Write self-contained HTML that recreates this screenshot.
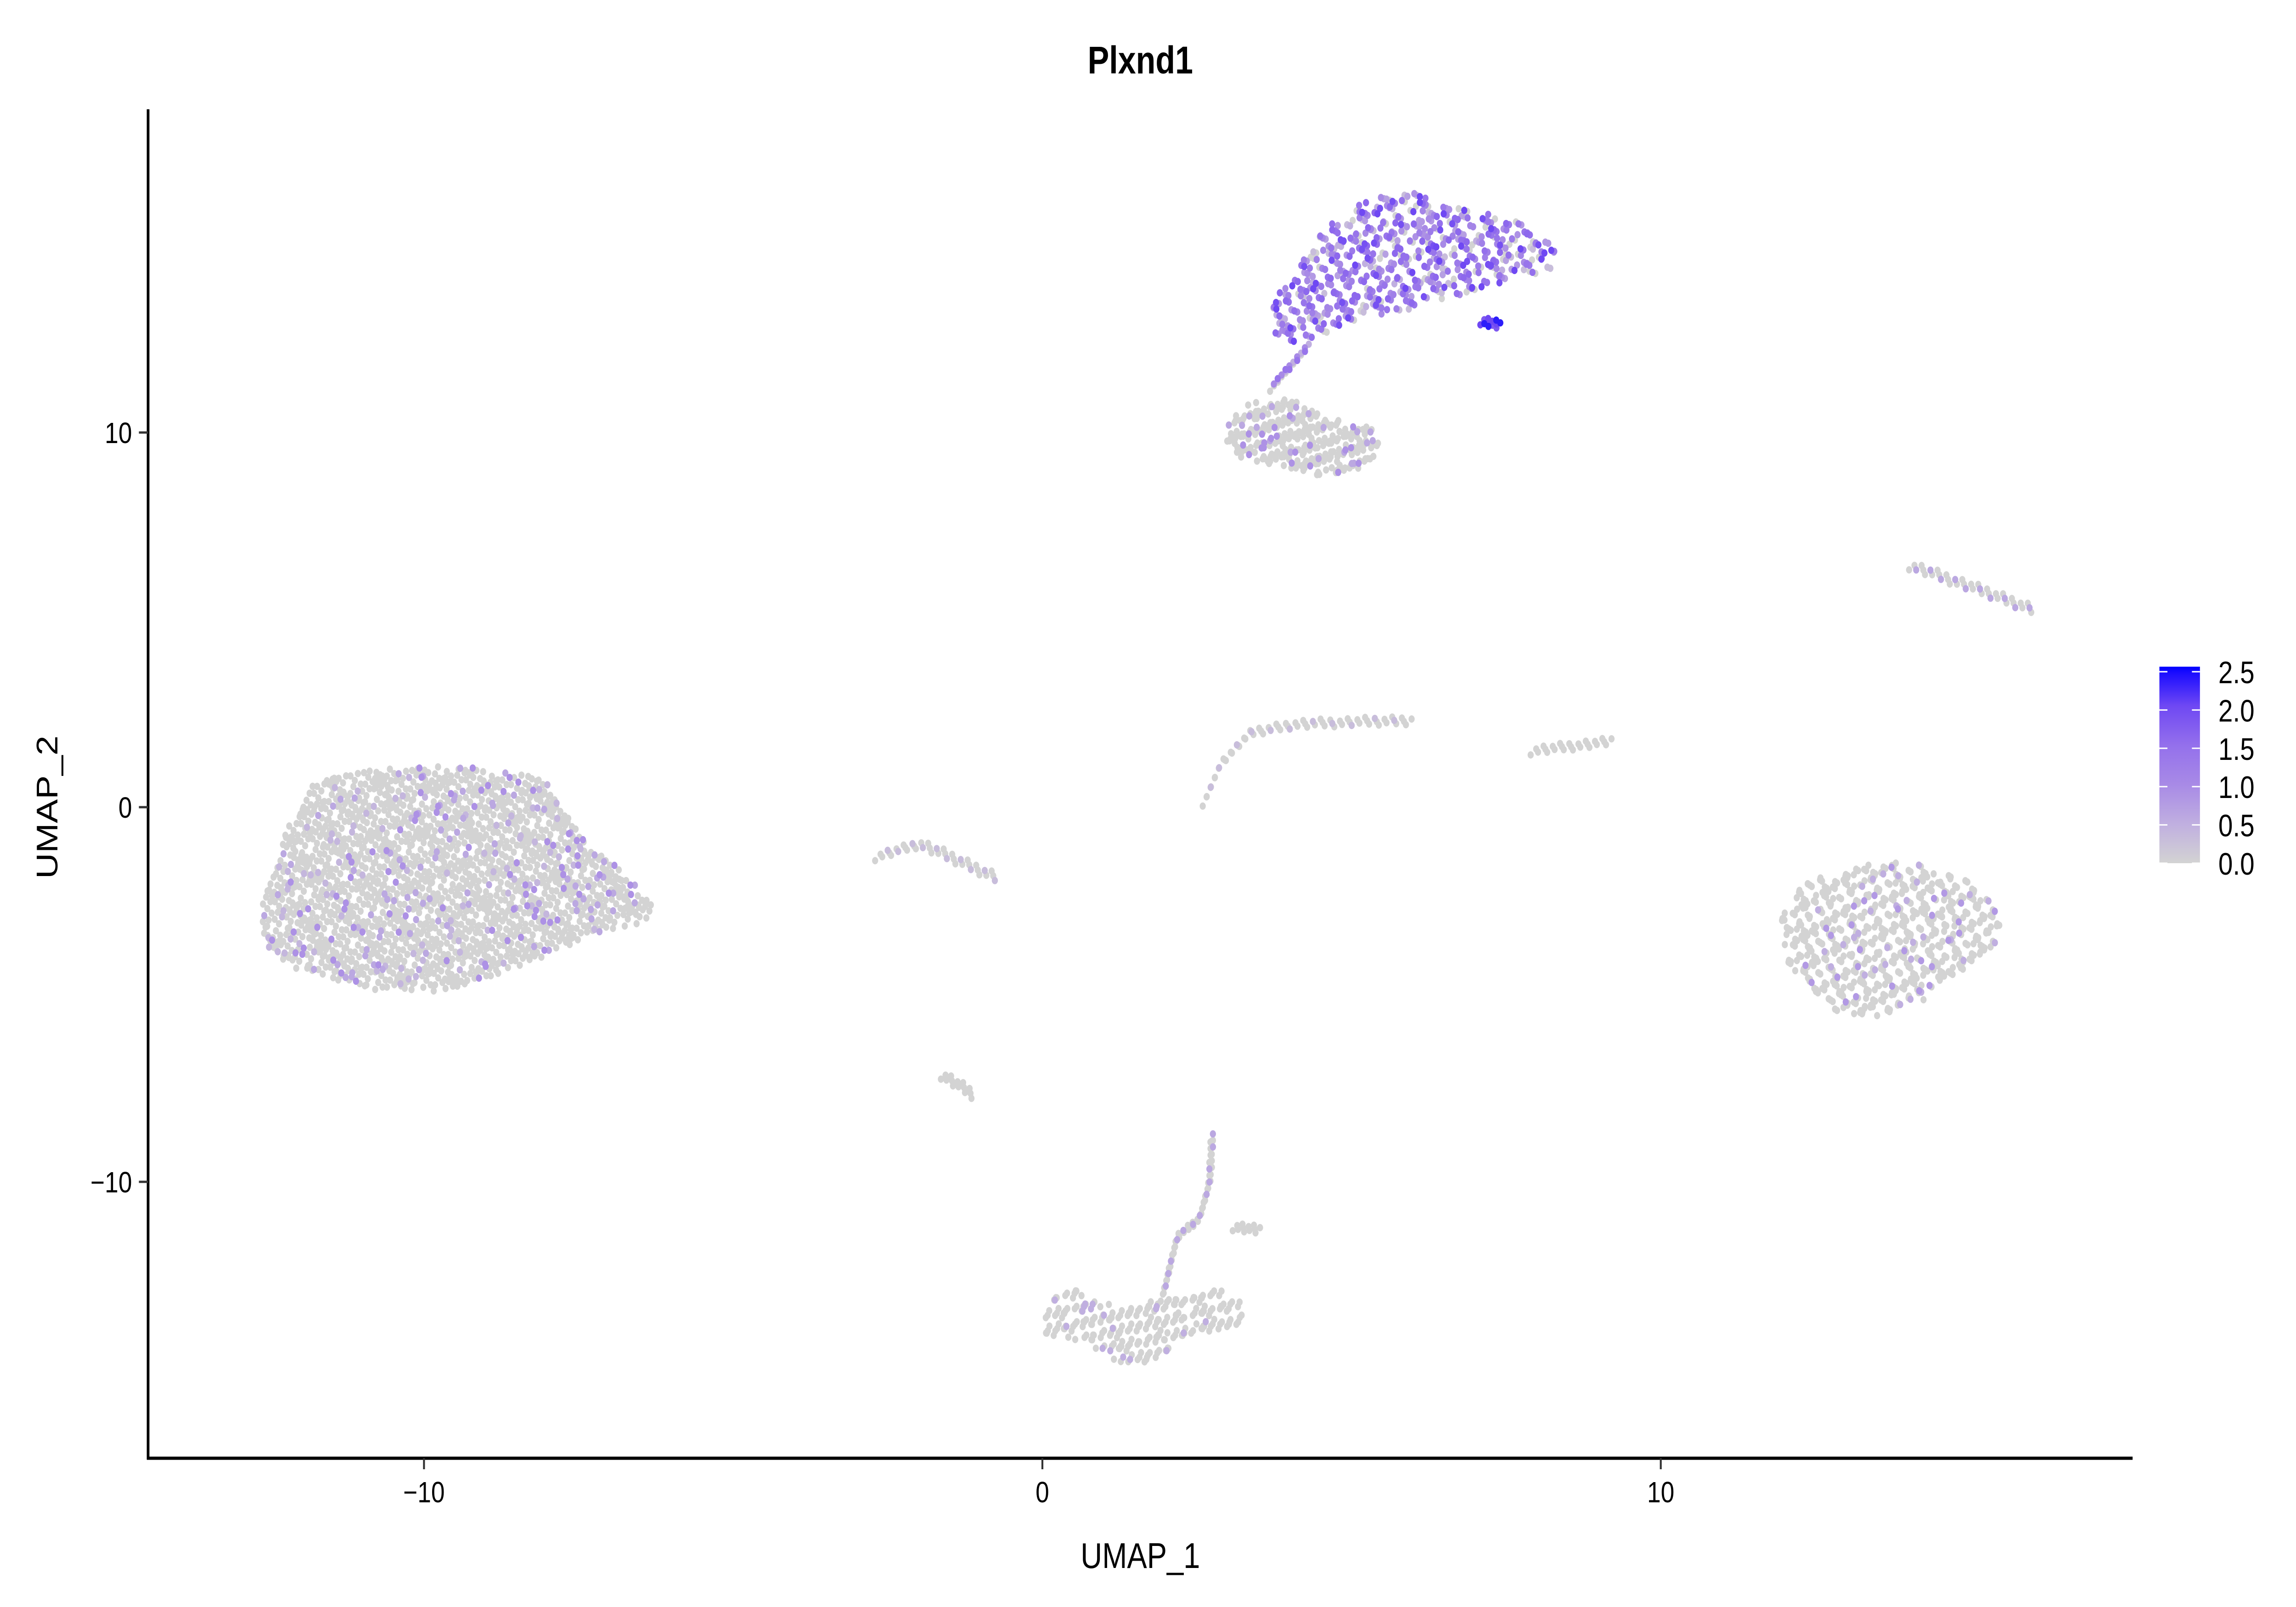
<!DOCTYPE html>
<html><head><meta charset="utf-8"><style>
html,body{margin:0;padding:0;background:#fff;overflow:hidden;width:100vw;height:100vh;}
svg{display:block;font-family:"Liberation Sans",Arial,sans-serif;width:100vw;height:100vh;}
</style></head><body>
<svg id="chart" viewBox="0 0 6000 3500" preserveAspectRatio="none" xmlns="http://www.w3.org/2000/svg">
<defs><linearGradient id="cbar" x1="0" y1="1" x2="0" y2="0">
<stop offset="0" stop-color="#d3d3d3"/><stop offset="0.2" stop-color="#c0afe0"/><stop offset="0.4" stop-color="#a88ae6"/><stop offset="0.6" stop-color="#9470ec"/><stop offset="0.8" stop-color="#6f48f3"/><stop offset="0.97" stop-color="#1a0cff"/><stop offset="1" stop-color="#0000ff"/></linearGradient></defs>
<rect width="6000" height="3500" fill="#fff"/>
<text x="2980" y="160" text-anchor="middle" font-weight="bold" font-size="84">Plxnd1</text>
<g id="points"></g>
<g id="axes"></g>
<text x="2980" y="3415" text-anchor="middle" font-size="78">UMAP_1</text>
<text transform="translate(150,1758) rotate(-90)" text-anchor="middle" font-size="78">UMAP_2</text>
<g id="legend"></g>
</svg>
<script>
// ---- data (UMAP coordinates) ----
const xTicks = [-10, 0, 10];
const yTicks = [-10, 0, 10];
const legendTicks = [0, 0.5, 1.0, 1.5, 2.0, 2.5];
const leftBlob = [[-12.63,-2.5],[-12.22,-0.61],[-11.75,0.71],[-10.67,1.04],[-9.48,1.14],[-8.05,0.81],[-7.82,0.1],[-7.34,-1.08],[-6.86,-1.55],[-6.26,-2.59],[-6.38,-3.07],[-7.34,-3.44],[-8.29,-4.15],[-9.72,-4.96],[-10.91,-4.86],[-12.1,-4.29],[-12.58,-3.68]];
const rightBlob = [[11.88,-2.97],[12.3,-2.02],[13.13,-1.55],[14.09,-1.46],[15.04,-2.02],[15.52,-2.73],[15.52,-3.44],[14.92,-4.38],[14.09,-5.33],[13.26,-5.7],[12.66,-5.33],[12.06,-4.15]];
const topUpper = [[3.61,13.17],[3.85,13.77],[4.56,15.43],[5.16,16.13],[5.87,16.47],[6.71,16.0],[7.66,15.66],[8.37,14.86],[8.33,14.39],[7.42,14.01],[6.95,13.78],[6.0,13.31],[5.28,13.07],[4.56,12.6],[3.85,12.36]];
const topLower = [[2.94,10.04],[3.25,10.71],[3.85,10.99],[4.44,10.62],[4.92,10.24],[5.4,10.15],[5.47,9.44],[5.04,8.97],[4.44,8.82],[3.85,9.11],[3.25,9.3],[3.01,9.58]];
const bottomBand = [[-0.03,-13.8],[0.16,-13.1],[0.52,-12.85],[1.23,-13.33],[2.18,-13.1],[2.9,-12.85],[3.37,-13.41],[3.13,-13.88],[2.18,-14.26],[1.71,-14.97],[1.23,-14.83],[0.64,-14.26],[0.04,-14.12]];
const blobCounts = [2100, 680, 600, 300, 260];
const strands = [
  [[1.94,-13.1],[2.18,-11.46],[2.54,-10.98],[2.7,-10.04],[2.75,-8.72]],
  [[3.09,-11.18],[3.52,-11.3]],
  [[-2.7,-1.32],[-1.98,-0.98],[-0.72,-1.88]],
  [[-1.63,-7.12],[-1.1,-7.68]],
  [[2.61,0.1],[2.89,1.18],[3.37,1.99],[4.09,2.22],[5.99,2.32]],
  [[7.9,1.51],[9.21,1.75]],
  [[14.02,6.47],[16.04,5.28]],
  [[3.7,11.2],[4.3,12.3]],
  [[7.1,13.0],[7.4,12.85]]
];
const strandCounts = [70, 12, 40, 14, 70, 25, 40, 25, 12];
const exprLeft = [0,0,0,0,0,0,0,0.6,0,0,0,0,0,0,0.4,0,0,0,0,0,0,0,0.9,0];
const exprRight = [0,0,0,0,0,0,0,0,0,0.5,0,0,0,0,0,0,0,0,0,0,0,0.8,0];
const exprTopUpper = [1.2,1.5,0,0.8,1.6,1.0,1.9,0.5,1.3,0,1.4,2.0,0.9,1.1,1.4,0.3,1.6,1.0,0,0.7];
const exprTopLower = [0,0,0,0,0,0.6,0,0,0,0,0.9,0,0,0,0];
const exprBottom = [0,0,0,0,0,0,0,0,0.5,0,0,0,0,0];
const exprStrands = [[0,0,0,0.6,0,0],[0],[0,0,0,0.3],[0],[0,0,0,0,0.3,0],[0],[0,0,0.6,0],[0,1.0,0,1.4,0.5],[2.0,1.8,2.3]];

// ---- scales ----
const X0 = 2724, XS = 161.6, Y0 = 1758, YS = 81.6;
const sx = v => X0 + XS * v;
const sy = v => Y0 - YS * v;
const NS = 'http://www.w3.org/2000/svg';
const cstops = [[0,[211,211,211]],[0.5,[192,175,224]],[1,[168,138,230]],[1.5,[148,112,236]],[2,[111,72,243]],[2.5,[0,0,255]]];
function col(v){
  v=Math.max(0,Math.min(2.5,v));
  for(let i=1;i<cstops.length;i++){ if(v<=cstops[i][0]){ const a=cstops[i-1],b=cstops[i],t=(v-a[0])/(b[0]-a[0]);
    return 'rgb('+a[1].map((c,k)=>Math.round(c+(b[1][k]-c)*t)).join(',')+')'; } }
  return 'rgb(0,0,255)';
}
function inside(p,poly){ let c=false; for(let i=0,j=poly.length-1;i<poly.length;j=i++){ const a=poly[i],b=poly[j];
  if(((a[1]>p[1])!==(b[1]>p[1])) && (p[0]<(b[0]-a[0])*(p[1]-a[1])/(b[1]-a[1])+a[0])) c=!c; } return c; }
const pts=[];
function fill(poly,n,expr){
  const xs=poly.map(p=>p[0]), ys=poly.map(p=>p[1]);
  const x0=Math.min(...xs),x1=Math.max(...xs),y0=Math.min(...ys),y1=Math.max(...ys);
  let k=0,i=1;
  while(k<n && i<n*10){ const u=(i*0.7548776662)%1, w=(i*0.5698402910)%1;
    const jx=((i*0.3183098862)%1-0.5)*0.25, jy=((i*0.4142135624)%1-0.5)*0.35; i++;
    const p=[x0+u*(x1-x0)+jx, y0+w*(y1-y0)+jy];
    if(inside(p,poly)){ pts.push([p[0],p[1],expr[k%expr.length]]); k++; } }
}
function strand(line,n,expr){
  const segL=[]; let tot=0;
  for(let i=1;i<line.length;i++){ const l=Math.hypot(line[i][0]-line[i-1][0],(line[i][1]-line[i-1][1])*0.5); segL.push(l); tot+=l; }
  for(let k=0;k<n;k++){ let d=(k+0.5)/n*tot, s=0; while(s<segL.length-1 && d>segL[s]){ d-=segL[s]; s++; }
    const t=Math.min(1,d/segL[s]), a=line[s], b=line[s+1];
    const off=(((k*0.618)%1)-0.5)*0.12;
    pts.push([a[0]+(b[0]-a[0])*t+off*0.5, a[1]+(b[1]-a[1])*t+off*2, expr[k%expr.length]]); }
}
fill(leftBlob,blobCounts[0],exprLeft);
fill(rightBlob,blobCounts[1],exprRight);
fill(topUpper,blobCounts[2],exprTopUpper);
fill(topLower,blobCounts[3],exprTopLower);
fill(bottomBand,blobCounts[4],exprBottom);
strands.forEach((s,i)=>strand(s,strandCounts[i],exprStrands[i]));
pts.sort((a,b)=>a[2]-b[2]);
const g=document.getElementById('points');
pts.forEach(p=>{ const c=document.createElementNS(NS,'circle');
  c.setAttribute('cx',sx(p[0]).toFixed(1)); c.setAttribute('cy',sy(p[1]).toFixed(1)); c.setAttribute('r','8'); c.setAttribute('fill',col(p[2]));
  
  
  g.appendChild(c); });

// ---- axes ----
const ax=document.getElementById('axes');
function el(tag,attrs,txt){ const e=document.createElementNS(NS,tag); for(const k in attrs) e.setAttribute(k,attrs[k]); if(txt!==undefined) e.textContent=txt; return e; }
let e=el('line',{x1:387,y1:238,x2:387,y2:3179,stroke:'#000','stroke-width':7});


ax.appendChild(e);
e=el('line',{x1:384,y1:3176,x2:5573,y2:3176,stroke:'#000','stroke-width':7});


ax.appendChild(e);
xTicks.forEach(t=>{
  let l=el('line',{x1:sx(t),y1:3176,x2:sx(t),y2:3200,stroke:'#333','stroke-width':5});
  
  
  ax.appendChild(l);
  let tx=el('text',{x:sx(t),y:3272,'text-anchor':'middle','font-size':64,fill:'#000'}, t<0?'\u2212'+Math.abs(t):String(t));
  
  
  ax.appendChild(tx);
});
yTicks.forEach(t=>{
  let l=el('line',{x1:363,y1:sy(t),x2:387,y2:sy(t),stroke:'#333','stroke-width':5});
  
  
  ax.appendChild(l);
  let tx=el('text',{x:345,y:sy(t)+23,'text-anchor':'end','font-size':64,fill:'#000'}, t<0?'\u2212'+Math.abs(t):String(t));
  
  
  ax.appendChild(tx);
});

// ---- legend ----
const lg=document.getElementById('legend');
const LB=1880, LT=1452, LS=(1880-1463)/2.5;
let r=el('rect',{x:5643,y:LT,width:106,height:LB-LT,fill:'url(#cbar)'});


lg.appendChild(r);
legendTicks.forEach(t=>{
  const y=LB-LS*t;
  let a=el('line',{x1:5643,y1:y,x2:5664,y2:y,stroke:'#fff','stroke-width':3});
  
  
  lg.appendChild(a);
  let b=el('line',{x1:5728,y1:y,x2:5749,y2:y,stroke:'#fff','stroke-width':3});
  
  
  lg.appendChild(b);
  let tx=el('text',{x:5797,y:y+25,'font-size':68,fill:'#000'}, t.toFixed(1));
  
  
  lg.appendChild(tx);
});
</script>
</body></html>
